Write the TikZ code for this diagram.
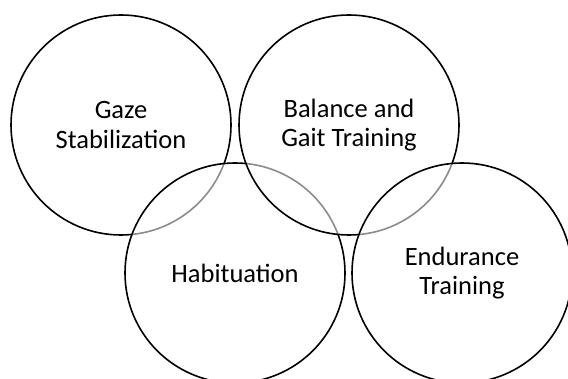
\documentclass[tikz,border=0pt]{standalone}
\usepackage{fontspec}
\setmainfont{Carlito}
\usepackage{tikz}

\begin{document}
\begin{tikzpicture}[x=1pt,y=-1pt,
    venn/.style={circle,draw=black,line width=1.6pt,fill=white,fill opacity=0.55,
      text opacity=1,minimum size=220pt,inner sep=0pt,align=center,
      font=\fontsize{26.5}{29.5}\selectfont}]
    \useasboundingbox (0,0) rectangle (568,379);

    \node[venn] (gaze) at (121,125) {Gaze\\Stabilization};
    \node[venn] (habit) at (235,273) {Habituation};
    \node[venn] (balance) at (349,125) {Balance and\\Gait Training};
    \node[venn] (endure) at (462,273) {Endurance\\Training};
  \end{tikzpicture}
\end{document}
